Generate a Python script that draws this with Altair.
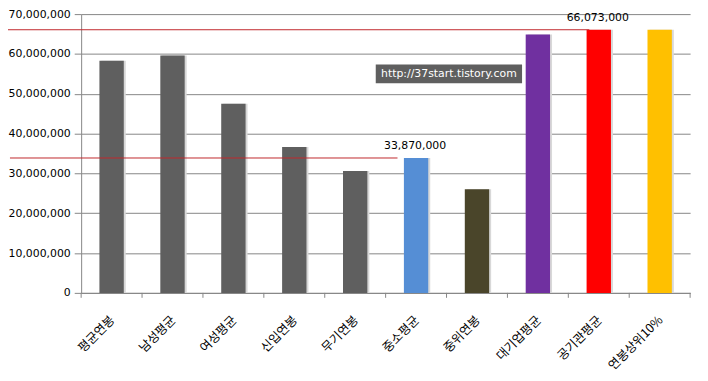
import altair as alt
import pandas as pd

categories = ["평균연봉", "남성평균", "여성평균", "신입연봉", "무기연봉",
              "중소평균", "중위연봉", "대기업평균", "공기관평균", "연봉상위10%"]
values = [58300000, 59600000, 47500000, 36600000, 30600000,
          33870000, 26000000, 64900000, 66073000, 66073000]
colors = ["#5f5f5f", "#5f5f5f", "#5f5f5f", "#5f5f5f", "#5f5f5f",
          "#558ed5", "#4a452a", "#7030a0", "#ff0000", "#ffc000"]
y_max = 70000000
label_cats = ["중소평균", "공기관평균"]
label_vals = [33870000, 66073000]
label_texts = ["33,870,000", "66,073,000"]
watermark = "http://37start.tistory.com"

W, H = 616, 282
STEP = W / len(categories)

df = pd.DataFrame({"cat": categories, "val": values, "color": colors})
lab = pd.DataFrame({"cat": label_cats, "val": label_vals, "txt": label_texts})

xs = alt.X("cat:N", sort=categories,
           scale=alt.Scale(paddingInner=0.6, paddingOuter=0.3),
           axis=alt.Axis(title=None, labelAngle=-45, ticks=False,
                         labelFont="Noto Sans CJK KR", labelFontSize=12.5,
                         labelColor="#000000", domainColor="#868686",
                         labelPadding=25, labelOffset=1, labelAlign="right",
                         labelBaseline="middle"))
ys = alt.Y("val:Q", scale=alt.Scale(domain=[0, y_max], nice=False),
           axis=alt.Axis(title=None, tickCount=7,
                         labelExpr="format(datum.value, ',')",
                         labelFont="DejaVu Sans", labelFontSize=11,
                         labelColor="#000000", gridColor="#868686",
                         domainColor="#868686", tickColor="#868686",
                         tickSize=7, labelPadding=4))

base = alt.Chart(df)

shadow = base.mark_bar(xOffset=2, color="#d8d8d8").encode(x=xs, y=ys)

bars = base.mark_bar().encode(
    x=xs, y=ys,
    color=alt.Color("color:N", scale=None))

ticks = base.mark_rule(color="#868686", xOffset=-STEP / 2).encode(
    x=xs, y=alt.value(H), y2=alt.value(H + 5))
end_tick = alt.Chart(pd.DataFrame({"a": [0]})).mark_rule(color="#868686").encode(
    x=alt.value(W), y=alt.value(H), y2=alt.value(H + 5))

red1 = alt.Chart(pd.DataFrame({"val": [label_vals[0]]})).mark_rule(
    color="#c0272d").encode(y=ys, x=alt.value(-72), x2=alt.value(320))
red2 = alt.Chart(pd.DataFrame({"val": [label_vals[1]]})).mark_rule(
    color="#c0272d").encode(y=ys, x=alt.value(-75), x2=alt.value(514))

labels = alt.Chart(lab).mark_text(baseline="bottom", dy=-7, dx=-1,
                                  font="DejaVu Sans", fontSize=11,
                                  color="#000000").encode(
    x=xs, y=ys, text="txt:N")

wm_df = pd.DataFrame({"t": [watermark]})
wm_box = alt.Chart(wm_df).mark_rect(color="#5f5f5f").encode(
    x=alt.value(298), x2=alt.value(446), y=alt.value(51), y2=alt.value(70))
wm_text = alt.Chart(wm_df).mark_text(color="#ffffff", font="DejaVu Sans",
                                     fontSize=11, align="center",
                                     baseline="middle").encode(
    x=alt.value(372), y=alt.value(60.5), text="t:N")

chart = alt.layer(shadow, bars, ticks, end_tick, red1, red2, labels,
                  wm_box, wm_text).properties(
    width=W, height=H,
    autosize=alt.AutoSizeParams(type="none"),
    padding={"left": 74, "top": 4, "right": 10, "bottom": 90},
    background="#ffffff"
).configure_view(stroke=None)

chart.save("out.html", embed_options={"renderer": "svg", "actions": False})
